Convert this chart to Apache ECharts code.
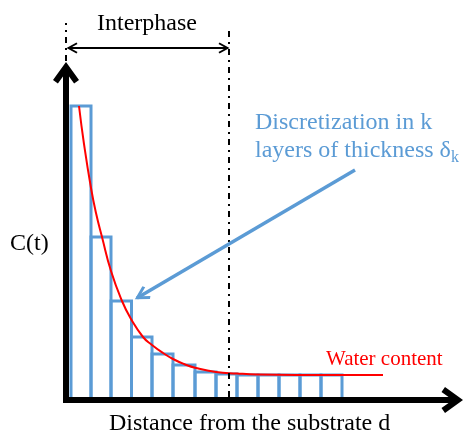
<!DOCTYPE html>
<html><head><meta charset="utf-8">
<script src="https://cdn.jsdelivr.net/npm/echarts@6/dist/echarts.min.js"></script>
<style>html,body{margin:0;padding:0;background:#fff}#c{width:465px;height:436px}</style>
</head><body><div id="c"></div>
<script>
// Layer boundaries (distance from substrate, arbitrary units) and layer concentration
const layerEdges = [5, 25, 45, 65.5, 86, 107, 129, 150, 171, 192, 213, 234, 255, 276];
const layerC = [294, 163, 99, 63, 46, 35, 28, 26, 25, 25, 25, 25, 25];
// Continuous water-content profile C(d)
const curveD = [13, 18, 25, 30, 36, 45, 56, 65, 77, 86, 97, 107, 118, 130, 150, 171, 192, 230, 276, 317];
const curveC = [294, 256, 212, 187, 163, 129, 99, 81, 63, 55, 47, 41, 36, 32, 28, 26.5, 25.5, 25, 25, 25];
const interphaseEnd = 163;

const SERIF = '"Liberation Serif", "Times New Roman", serif';
const BLUE = '#5B9BD5';
const bigArrow = 'path://M13,0 L26,18 L21.1,21.5 L13,10.2 L4.9,21.5 L0,18 Z';
const thinArrow = 'path://M6,0 L12,10 L10.3,11 L6,3.8 L1.7,11 L0,10 Z';
const blueArrow = 'path://M8,0 L16,12 L13.5,13.7 L8,5.4 L2.5,13.7 L0,12 Z';

const chart = echarts.init(document.getElementById('c'), null, {renderer: 'canvas'});

const axisStyle = {
  show: true,
  symbol: ['none', bigArrow],
  symbolSize: [26, 21.5],
  symbolOffset: [0, -2.75],
  lineStyle: {color: '#000', width: 6, cap: 'square'}
};

const option = {
  backgroundColor: '#fff',
  animation: false,
  grid: [
    {left: 66, right: 10, top: 70, bottom: 36},
    {left: 66, right: 10, top: 20, bottom: 36}
  ],
  xAxis: [
    {type: 'value', gridIndex: 0, min: 0, max: 389, z: 5,
     axisLine: axisStyle, axisTick: {show: false}, axisLabel: {show: false}, splitLine: {show: false}},
    {type: 'value', gridIndex: 1, min: 0, max: 389, show: false}
  ],
  yAxis: [
    {type: 'value', gridIndex: 0, min: 0, max: 330, z: 5,
     axisLine: axisStyle, axisTick: {show: false}, axisLabel: {show: false}, splitLine: {show: false}},
    {type: 'value', gridIndex: 1, min: 0, max: 380, show: false}
  ],
  series: [
    {
      type: 'line', xAxisIndex: 0, yAxisIndex: 0,
      data: curveD.map((d, i) => [d, curveC[i]]),
      smooth: 0.5, showSymbol: false, silent: true,
      lineStyle: {color: '#FF0000', width: 2}
    },
    {
      type: 'custom', xAxisIndex: 0, yAxisIndex: 0, silent: true,
      data: layerC.map((c, i) => [layerEdges[i], layerEdges[i + 1], c]),
      encode: {x: [0, 1], y: 2},
      renderItem: function (params, api) {
        const x0 = api.value(0), x1 = api.value(1), c = api.value(2);
        return {
          type: 'polyline',
          shape: {points: [api.coord([x0, 0]), api.coord([x0, c]), api.coord([x1, c]), api.coord([x1, 0])]},
          style: {stroke: BLUE, lineWidth: 3, fill: null}
        };
      }
    },
    {
      type: 'line', xAxisIndex: 1, yAxisIndex: 1, data: [], silent: true,
      markLine: {
        silent: true, symbol: ['none', 'none'], label: {show: false},
        lineStyle: {color: '#000', width: 2, type: [6, 5, 2, 5]},
        data: [
          [{coord: [0, 339]}, {coord: [0, 377]}],
          [{coord: [interphaseEnd, 3]}, {coord: [interphaseEnd, 373]}]
        ]
      }
    },
    {
      type: 'line', xAxisIndex: 1, yAxisIndex: 1, data: [], silent: true,
      markLine: {
        silent: true, symbol: [thinArrow, thinArrow], symbolSize: 11,
        label: {show: false},
        lineStyle: {color: '#000', width: 2, type: 'solid'},
        data: [[{coord: [2, 352], symbolOffset: [0, 4]}, {coord: [interphaseEnd - 1, 352], symbolOffset: [0, 4]}]]
      }
    },
    {
      type: 'line', xAxisIndex: 1, yAxisIndex: 1, data: [], silent: true,
      markLine: {
        silent: true, symbol: ['none', blueArrow], symbolSize: 15,
        label: {show: false},
        lineStyle: {color: BLUE, width: 3.5, type: 'solid'},
        data: [[{coord: [289, 230]}, {coord: [71, 102], symbolOffset: [0, 5]}]]
      }
    }
  ],
  graphic: [
    {type: 'text', x: 147, y: 24, silent: true,
     style: {text: 'Interphase', font: '24px ' + SERIF, fill: '#000', align: 'center', verticalAlign: 'middle'}},
    {type: 'text', x: 10, y: 244, silent: true,
     style: {text: 'C(t)', font: '24px ' + SERIF, fill: '#000', align: 'left', verticalAlign: 'middle'}},
    {type: 'text', x: 255, y: 109, silent: true,
     style: {
       text: '{a|Discretization in k}\n{a|layers of thickness δ}{s|k}',
       align: 'left', verticalAlign: 'top',
       rich: {
         a: {font: '24px ' + SERIF, fill: BLUE, lineHeight: 28},
         s: {font: '16px ' + SERIF, fill: BLUE, lineHeight: 12, padding: [14, 0, 0, 0]}
       }
     }},
    {type: 'text', x: 326, y: 359, silent: true,
     style: {text: 'Water content', font: '21px ' + SERIF, fill: '#FF0000', align: 'left', verticalAlign: 'middle'}},
    {type: 'text', x: 109, y: 424, silent: true,
     style: {text: 'Distance from the substrate d', font: '24px ' + SERIF, fill: '#000', align: 'left', verticalAlign: 'middle'}}
  ]
};
chart.setOption(option);
</script>
</body></html>
